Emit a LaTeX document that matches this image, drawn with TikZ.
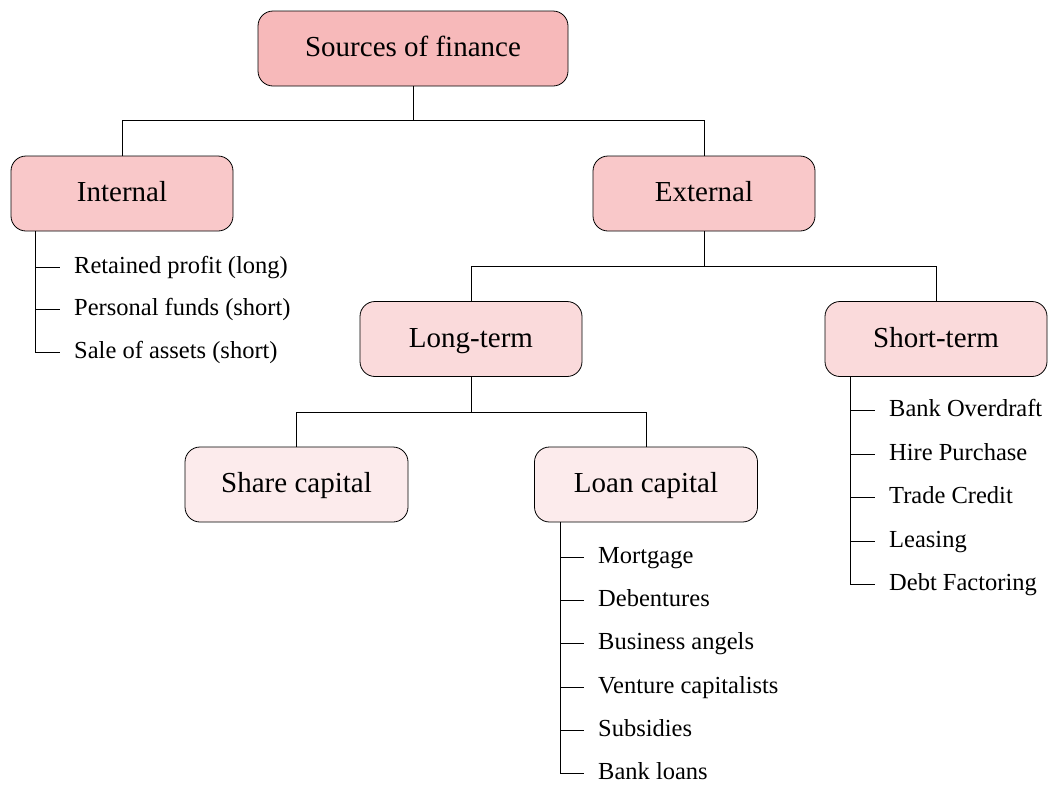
\documentclass[tikz,border=0pt]{standalone}
\usepackage{fontspec}
\setmainfont{Liberation Serif}
\begin{document}
\begin{tikzpicture}[x=1pt,y=-1pt,
  box/.style={draw=black, line width=0.8pt, rounded corners=15pt, minimum height=75pt,
    minimum width=222pt, font=\fontsize{29}{33}\selectfont, text=black,
    text height=16.5pt, text depth=0pt},
  lvA/.style={box, fill=lvAcol, minimum width=310pt},
  lvB/.style={box, fill=lvBcol},
  lvC/.style={box, fill=lvCcol},
  lvD/.style={box, fill=lvDcol, minimum width=223pt},
  leaf/.style={anchor=west, inner xsep=14pt, inner ysep=2pt, font=\fontsize{24.5}{28}\selectfont,
    text height=12pt, text depth=0pt},
  conn/.style={draw=black, line width=0.8pt}]
\definecolor{lvAcol}{RGB}{247,185,186}
\definecolor{lvBcol}{RGB}{249,200,201}
\definecolor{lvCcol}{RGB}{250,218,219}
\definecolor{lvDcol}{RGB}{252,235,236}
\useasboundingbox (0,0) rectangle (1049,785);

\node[lvA] (src) at (413,48.5) {Sources of finance};
\node[lvB] (int) at (122,193.5) {Internal};
\node[lvB] (ext) at (704,193.5) {External};
\node[lvC] (lt) at (471,339) {Long-term};
\node[lvC] (st) at (936,339) {Short-term};
\node[lvD] (sc) at (296.5,484.5) {Share capital};
\node[lvD] (lc) at (646,484.5) {Loan capital};

% tree connectors
\coordinate (j1) at (413,120);
\coordinate (j2) at (704,266);
\coordinate (j3) at (471,412);
\draw[conn] (src.south) -- (j1);
\draw[conn] (j1) -| (int.north);
\draw[conn] (j1) -| (ext.north);
\draw[conn] (ext.south) -- (j2);
\draw[conn] (j2) -| (lt.north);
\draw[conn] (j2) -| (st.north);
\draw[conn] (lt.south) -- (j3);
\draw[conn] (j3) -| (sc.north);
\draw[conn] (j3) -| (lc.north);

% internal list
\node[leaf] (i1) at (60,267) {Retained profit (long)};
\node[leaf] (i2) at (60,309.5) {Personal funds (short)};
\node[leaf] (i3) at (60,352) {Sale of assets (short)};
\coordinate (iv) at (35,231);
\foreach \n in {i1,i2,i3} \draw[conn] (iv) |- (\n.west);

% short-term list
\node[leaf] (s1) at (875,410.5) {Bank Overdraft};
\node[leaf] (s2) at (875,454) {Hire Purchase};
\node[leaf] (s3) at (875,497.5) {Trade Credit};
\node[leaf] (s4) at (875,541) {Leasing};
\node[leaf] (s5) at (875,584.5) {Debt Factoring};
\coordinate (sv) at (850,376);
\foreach \n in {s1,s2,s3,s4,s5} \draw[conn] (sv) |- (\n.west);

% loan capital list
\node[leaf] (c1) at (584,557) {Mortgage};
\node[leaf] (c2) at (584,600) {Debentures};
\node[leaf] (c3) at (584,643.5) {Business angels};
\node[leaf] (c4) at (584,687) {Venture capitalists};
\node[leaf] (c5) at (584,730) {Subsidies};
\node[leaf] (c6) at (584,773.5) {Bank loans};
\coordinate (cv) at (560,522);
\foreach \n in {c1,c2,c3,c4,c5,c6} \draw[conn] (cv) |- (\n.west);
\end{tikzpicture}
\end{document}
